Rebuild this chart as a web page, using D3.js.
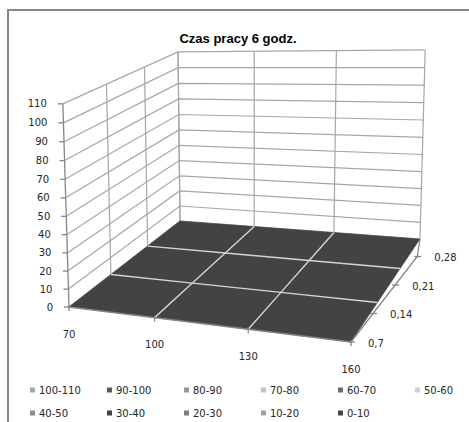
<!DOCTYPE html>
<html><head><meta charset="utf-8">
<script src="https://cdn.jsdelivr.net/npm/d3@7"></script>
<style>body{margin:0;background:#fff}svg{display:block}</style>
</head><body><svg id="c" width="469" height="422"></svg>
<script>
// ---------- data ----------
const chartTitle = "Czas pracy 6 godz.";
const categories = [70, 100, 130, 160];
const seriesNames = ["0,7", "0,14", "0,21", "0,28"];
const s0_7  = [0, 0, 0, 0];
const s0_14 = [0, 0, 0, 0];
const s0_21 = [0, 0, 0, 0];
const s0_28 = [0, 0, 0, 0];
const valueTicks = [0,10,20,30,40,50,60,70,80,90,100,110];
const bandLabels = ["100-110","90-100","80-90","70-80","60-70","50-60","40-50","30-40","20-30","10-20","0-10"];
const bandColors = ["#a6a6a6","#5a5a5a","#969696","#c4c4c4","#6b6b6b","#cfcfcf","#8c8c8c","#424242","#7f7f7f","#a3a3a3","#434343"];
const bandLow = [100,90,80,70,60,50,40,30,20,10,0];

const seriesValues = [s0_7, s0_14, s0_21, s0_28];

// ---------- projection (camera anchors) ----------
function sq2quad(p0,p1,p2,p3){
  const [x0,y0]=p0,[x1,y1]=p1,[x2,y2]=p2,[x3,y3]=p3;
  const sx=x0-x1+x2-x3, sy=y0-y1+y2-y3;
  const dx1=x1-x2, dx2=x3-x2, dy1=y1-y2, dy2=y3-y2;
  const den=dx1*dy2-dx2*dy1;
  const g=(sx*dy2-dx2*sy)/den, h=(dx1*sy-sx*dy1)/den;
  return {a:x1-x0+g*x1, b:x3-x0+h*x3, c:x0, d:y1-y0+g*y1, e:y3-y0+h*y3, f:y0, g, h};
}
const H = sq2quad([69,307],[351,342],[420,239],[180,221]);
const tops = [[0,0,[62,92]],[0,1,[178,50]],[1,1,[426,63]]];
let A=[[0,0,0],[0,0,0],[0,0,0]], B=[0,0,0];
tops.forEach(([u,v,[X,Y]])=>{
  const w=H.g*u+H.h*v+1, nx=H.a*u+H.b*v+H.c, ny=H.d*u+H.e*v+H.f;
  const rows=[[[1,0,-X],X*w-nx],[[0,1,-Y],Y*w-ny]];
  rows.forEach(([r,t])=>{for(let i=0;i<3;i++){B[i]+=r[i]*t;for(let j=0;j<3;j++)A[i][j]+=r[i]*r[j];}});
});
function det3(m){return m[0][0]*(m[1][1]*m[2][2]-m[1][2]*m[2][1])-m[0][1]*(m[1][0]*m[2][2]-m[1][2]*m[2][0])+m[0][2]*(m[1][0]*m[2][1]-m[1][1]*m[2][0]);}
const D=det3(A);
const sol=[0,1,2].map(k=>{const m=A.map((r,i)=>r.map((x,j)=>j===k?B[i]:x));return det3(m)/D;});
const [pzx,pzy,pzw]=sol;
function P(u,v,z){
  const w=H.g*u+H.h*v+1+pzw*z;
  return [(H.a*u+H.b*v+H.c+pzx*z)/w,(H.d*u+H.e*v+H.f+pzy*z)/w];
}

// ---------- scales ----------
const xS = d3.scalePoint().domain(categories).range([0,1]);
const yS = d3.scalePoint().domain(seriesNames).range([0,1]);
const zS = d3.scaleLinear().domain([0,110]).range([0,1]);
// series-axis tick placement along the right axis line
const yTickS = d3.scalePoint().domain(seriesNames).range([0,0.83]);

const svg = d3.select("#c");
const line = d3.line();
const FONT = "DejaVu Sans, Verdana, sans-serif";
const GRID = "#a6a6a6", AXIS = "#868686", TXT = "#262626";

svg.append("rect").attr("x",8).attr("y",10).attr("width",500).attr("height",500)
  .attr("fill","#fff").attr("stroke","#898989").attr("stroke-width",2);

svg.append("text").attr("x",238).attr("y",43).attr("text-anchor","middle")
  .attr("font-family","Liberation Sans, Arial, sans-serif").attr("font-weight","bold")
  .attr("font-size",13).attr("fill","#000").text(chartTitle);

const g = svg.append("g");
g.append("path").attr("d",line([P(0,0,0),P(0,1,0),P(0,1,1),P(0,0,1)])+"Z").attr("fill","#fff");
g.append("path").attr("d",line([P(0,1,0),P(1,1,0),P(1,1,1),P(0,1,1)])+"Z").attr("fill","#fff");
valueTicks.forEach(t=>{
  const z=zS(t);
  g.append("path").attr("d",line([P(0,0,z),P(0,1,z),P(1,1,z)])).attr("fill","none")
   .attr("stroke",GRID).attr("stroke-width",1.2);
});
seriesNames.forEach(s=>{
  const v=yS(s); if(v===0) return;
  g.append("path").attr("d",line([P(0,v,0),P(0,v,1)])).attr("stroke",GRID).attr("stroke-width",1.2);
});
categories.forEach(c=>{
  const u=xS(c);
  g.append("path").attr("d",line([P(u,1,0),P(u,1,1)])).attr("stroke",GRID).attr("stroke-width",1.2);
});

function bandColor(val){
  for(let i=0;i<bandLow.length;i++){ if(val>=bandLow[i]) return bandColors[i]; }
  return bandColors[bandColors.length-1];
}
for(let j=0;j<seriesNames.length-1;j++){
  for(let i=0;i<categories.length-1;i++){
    const u0=xS(categories[i]), u1=xS(categories[i+1]);
    const v0=yS(seriesNames[j]), v1=yS(seriesNames[j+1]);
    const z00=zS(seriesValues[j][i]), z10=zS(seriesValues[j][i+1]);
    const z11=zS(seriesValues[j+1][i+1]), z01=zS(seriesValues[j+1][i]);
    const avg=(seriesValues[j][i]+seriesValues[j][i+1]+seriesValues[j+1][i+1]+seriesValues[j+1][i])/4;
    g.append("path").attr("d",line([P(u0,v0,z00),P(u1,v0,z10),P(u1,v1,z11),P(u0,v1,z01)])+"Z")
     .attr("fill",bandColor(avg)).attr("stroke",bandColor(avg)).attr("stroke-width",0.5);
  }
}
seriesNames.forEach((s,j)=>{
  if(j===0||j===seriesNames.length-1) return;
  const pts=categories.map((c,i)=>P(xS(c),yS(s),zS(seriesValues[j][i])));
  g.append("path").attr("d",line(pts)).attr("fill","none").attr("stroke","#d4d4d4").attr("stroke-width",1.4);
});
categories.forEach((c,i)=>{
  if(i===0||i===categories.length-1) return;
  const pts=seriesNames.map((s,j)=>P(xS(c),yS(s),zS(seriesValues[j][i])));
  g.append("path").attr("d",line(pts)).attr("fill","none").attr("stroke","#d4d4d4").attr("stroke-width",1.4);
});

// value axis
g.append("path").attr("d",line([P(0,0,0),P(0,0,1)])).attr("stroke",AXIS).attr("stroke-width",1.3);
valueTicks.forEach(t=>{
  const [x,y]=P(0,0,zS(t));
  g.append("path").attr("d",line([[x-5,y],[x,y]])).attr("stroke",AXIS).attr("stroke-width",1.3);
  g.append("text").attr("x",x-16).attr("y",y).attr("dy","0.35em").attr("text-anchor","end")
   .attr("font-family",FONT).attr("font-size",10).attr("fill",TXT).text(t);
});
// category axis
g.append("path").attr("d",line([P(0,0,0),P(1,0,0)])).attr("stroke",AXIS).attr("stroke-width",1.3);
categories.forEach(c=>{
  const [x,y]=P(xS(c),0,0);
  g.append("path").attr("d",line([[x,y-2],[x,y+4]])).attr("stroke",AXIS).attr("stroke-width",1.3);
  g.append("text").attr("x",x).attr("y",y+27).attr("dy","0.35em").attr("text-anchor","middle")
   .attr("font-family",FONT).attr("font-size",10).attr("fill",TXT).text(c);
});
// series axis
const [ax0,ay0]=P(1,0,0), [ax1,ay1]=P(1,1,0);
const axEnd=[ax0+(ax1-ax0)*0.83+9, ay0+(ay1-ay0)*0.83];
g.append("path").attr("d",line([[ax0,ay0],axEnd,[ax1,ay1]])).attr("fill","none").attr("stroke",AXIS).attr("stroke-width",1.3);
seriesNames.forEach(s=>{
  const t=yTickS(s);
  const x=ax0+(axEnd[0]-ax0)*t/0.83, y=ay0+(axEnd[1]-ay0)*t/0.83;
  g.append("path").attr("d",line([[x-3,y],[x+4,y]])).attr("stroke",AXIS).attr("stroke-width",1.3);
  g.append("text").attr("x",x+17).attr("y",y+1).attr("dy","0.35em").attr("text-anchor","start")
   .attr("font-family",FONT).attr("font-size",10).attr("fill",TXT).text(s);
});

// legend
const lg = svg.append("g");
bandLabels.forEach((b,i)=>{
  const col=i%6, row=Math.floor(i/6);
  const x=30+col*77, y=390+row*23;
  lg.append("rect").attr("x",x).attr("y",y-2.5).attr("width",5).attr("height",5).attr("fill",bandColors[i]);
  lg.append("text").attr("x",x+9).attr("y",y).attr("dy","0.35em").attr("font-family",FONT)
    .attr("font-size",10).attr("fill",TXT).text(b);
});
</script></body></html>
